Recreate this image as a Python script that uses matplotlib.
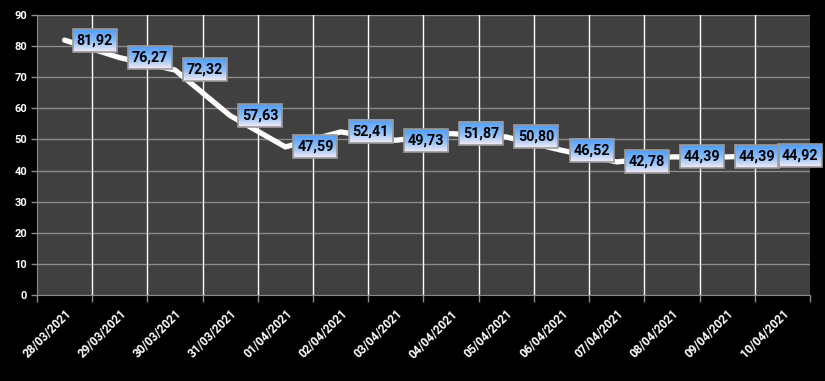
import numpy as np
import matplotlib
matplotlib.use("Agg")
from matplotlib import pyplot as plt
from matplotlib.patches import Rectangle
from matplotlib.colors import LinearSegmentedColormap

#Data
dates = ["28/03/2021", "29/03/2021", "30/03/2021", "31/03/2021", "01/04/2021",
         "02/04/2021", "03/04/2021", "04/04/2021", "05/04/2021", "06/04/2021",
         "07/04/2021", "08/04/2021", "09/04/2021", "10/04/2021"]
values = [81.92, 76.27, 72.32, 57.63, 47.59, 52.41, 49.73, 51.87, 50.80,
          46.52, 42.78, 44.39, 44.39, 44.92]
yticks = list(range(0, 91, 10))

fig = plt.figure(figsize=(8.25, 3.81), dpi=100, facecolor="black")
ax = fig.add_axes([0.0448, 0.2257, 0.937, 0.735])
ax.set_facecolor("#404040")
x = np.arange(len(dates))
ax.set_xlim(-0.5, len(dates) - 0.5)
ax.set_ylim(0, 90)

#Grid lines: grey horizontal, white vertical between categories
for v in yticks[1:]:
    ax.axhline(v, color="#8c8c8c", lw=1, zorder=1)
for b in np.arange(0.5, len(dates) - 1, 1.0):
    ax.axvline(b, color="white", lw=1, zorder=1)

ax.plot(x, values, color="white", lw=3.8, solid_capstyle="round",
        solid_joinstyle="round", zorder=3)

#Ticks and labels
ax.set_yticks(yticks)
ax.set_yticklabels([str(v) for v in yticks], color="white", fontsize=8,
                   fontweight="bold", family="Roboto")
ax.set_xticks(x)
ax.set_xticklabels(dates, rotation=45, ha="right", va="top", color="white",
                   fontsize=8.5, fontweight="bold", rotation_mode="anchor",
                   family="Roboto")
ax.set_xticks(np.arange(-0.5, len(dates), 1.0), minor=True)
ax.tick_params(axis="x", which="major", length=0, pad=9)
ax.tick_params(axis="x", which="minor", length=5, color="#8c8c8c", width=1)
ax.tick_params(axis="y", length=4, color="#8c8c8c", width=1, pad=3)
for s in ["top", "right"]:
    ax.spines[s].set_visible(False)
ax.spines["left"].set_color("#8c8c8c")
ax.spines["bottom"].set_color("#8c8c8c")

#Data label boxes with gradient fill (sizes in pixels converted to data units)
px_x = (len(dates)) / (0.937 * 825)
px_y = 90 / (0.735 * 381)
bw = 44 * px_x
bh = 23 * px_y
xmax = len(dates) - 0.5 + 12 * px_x
cmap = LinearSegmentedColormap.from_list(
    "lbl", [(0, "#4f9dfd"), (0.55, "#8ec0f8"), (1, "#f6ecf6")])
grad = np.linspace(0, 1, 64).reshape(-1, 1)
for xi, v in zip(x, values):
    left = min(xi + 8 * px_x, xmax - bw)
    bottom = v - bh / 2
    ax.imshow(grad, cmap=cmap, aspect="auto", origin="upper",
              extent=[left, left + bw, bottom, bottom + bh],
              zorder=4, clip_on=False)
    ax.add_patch(Rectangle((left, bottom), bw, bh, fill=False,
                           edgecolor="#9a9a9a", lw=1.2, zorder=5, clip_on=False))
    ax.text(left + bw / 2, v, f"{v:.2f}".replace(".", ","), ha="center",
            va="center", fontsize=10.3, fontweight="bold", color="black",
            family="Roboto", zorder=6, clip_on=False)

ax.set_xlim(-0.5, len(dates) - 0.5)
ax.set_ylim(0, 90)
fig.savefig("out.png", dpi=100, facecolor="black")
